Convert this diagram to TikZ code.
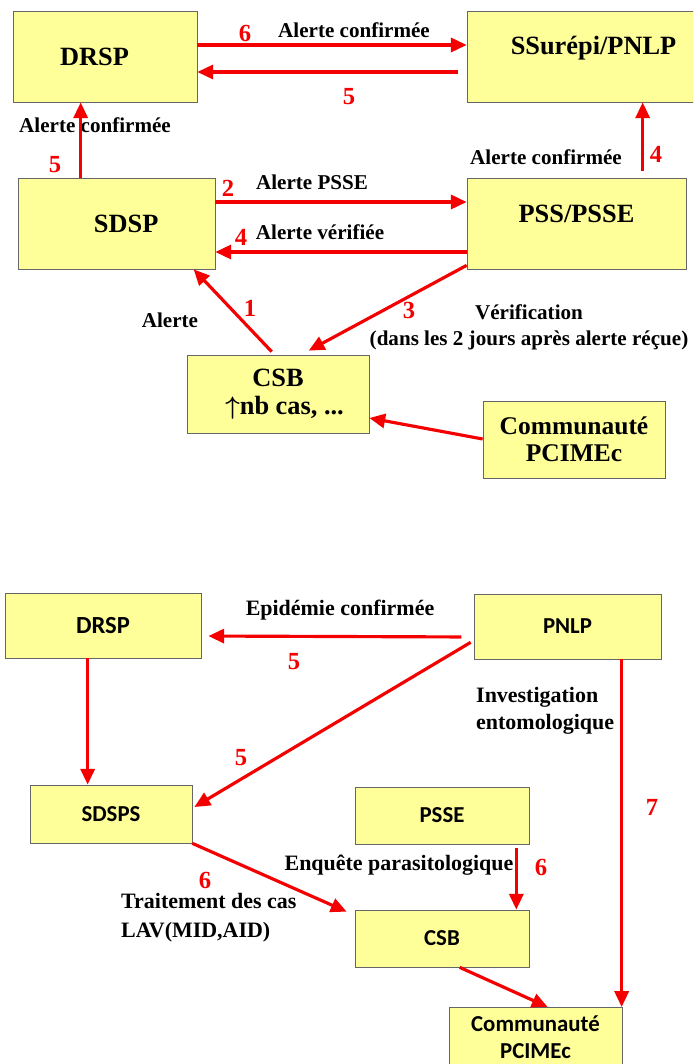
\documentclass[tikz,border=0pt]{standalone}
\usepackage{amsmath, amssymb}
\usepackage{fontspec}
\setmainfont{Liberation Serif}
\newfontfamily\calibrifont{Carlito}
\usetikzlibrary{arrows.meta, positioning, calc}
\definecolor{paleyellow}{HTML}{FFFF99}
\definecolor{alertred}{HTML}{F50000}
\tikzstyle{box} = [rectangle, 
draw=black!60, 
fill=paleyellow, 
inner sep=0pt,
align=center, 
font=\fontsize{15}{17}\selectfont\bfseries]
\tikzstyle{sbox} = [box, font=\calibrifont\fontsize{13}{16}\selectfont\bfseries]
\tikzstyle{arrow} = [-{Triangle[length=9pt,width=8pt]}, line width=1.8pt, draw=alertred]
\tikzstyle{num} = [text=alertred, font=\fontsize{14}{16}\selectfont\bfseries]
\tikzstyle{lbl} = [align=center, font=\fontsize{12}{16.5}\selectfont\bfseries]

\begin{document}
\begin{tikzpicture}[x=0.02cm, y=-0.02cm]
		
		% canvas, same size as the reference
		\useasboundingbox (0,0) rectangle (693,1064);
		\clip (0,0) rectangle (693,1064);
		
		% --- alerte ---
		\node[box, minimum width=3.68cm, minimum height=1.82cm] (drspA) at (105,56.5) {DRSP\hspace*{12pt}};
		\node[box, minimum width=5.06cm, minimum height=1.82cm, text depth=13pt] (ssurepi) at (593.5,56.5) {SSurépi/PNLP};
		\node[box, minimum width=3.94cm, minimum height=1.82cm] (sdsp) at (116.5,223.5) {\hspace*{11pt}SDSP};
		\node[box, minimum width=4.38cm, minimum height=1.82cm, text depth=11pt] (pss) at (576.5,223.5) {PSS/PSSE};
		\node[box, minimum width=3.64cm, minimum height=1.56cm] (csbA) at (278,394) {CSB\\[-1pt] \ \ $\boldsymbol{\uparrow}$nb cas, ...};
		\node[box, minimum width=3.64cm, minimum height=1.54cm, font=\fontsize{14.5}{15.5}\selectfont\bfseries] (commA) at (574,439.5) {Communauté\\PCIMEc};
		
		\node[lbl] (t6) at (354,30) {Alerte confirmée};
		\node[num] (n6) at (245,33) {6};
		\node[num] (n5a) at (349,97) {5};
		\node[lbl] (t5) at (95,125) {Alerte confirmée};
		\node[num] (n5b) at (55,165) {5};
		\node[lbl] (t4a) at (546,157) {Alerte confirmée};
		\node[num] (n4a) at (656,154) {4};
		\node[lbl] (t2) at (312,182) {Alerte PSSE};
		\node[num] (n2) at (228,188) {2};
		\node[lbl] (t4b) at (320,232) {Alerte vérifiée};
		\node[num] (n4b) at (241,237) {4};
		\node[lbl] (t1) at (170,320) {Alerte};
		\node[num] (n1) at (250,308) {1};
		\node[num] (n3) at (409,310) {3};
		\node[lbl] (t3) at (529,312) {Vérification};
		\node[lbl] (t3b) at (529,340) {(dans les 2 jours après alerte réçue)};
		
		\draw[arrow] ($(drspA.east)+(0,-11.5)$) -- ($(ssurepi.west)+(0,-11.5)$);
		\draw[arrow, shorten <=5pt] ($(ssurepi.west)+(0,15.5)$) -- ($(drspA.east)+(0,15.5)$);
		\draw[arrow] ($(sdsp.north west)+(63,0)$) coordinate (s5) -- (s5 |- drspA.south);
		\draw[arrow, shorten <=4pt] ($(pss.north west)+(176,0)$) coordinate (p4) -- (p4 |- ssurepi.south);
		\draw[arrow] ($(sdsp.east)+(0,-21.5)$) -- ($(pss.west)+(0,-21.5)$);
		\draw[arrow] ($(pss.west)+(0,28.5)$) -- ($(sdsp.east)+(0,28.5)$);
		\draw[arrow] ($(csbA.north west)+(85,-3)$) -- ($(sdsp.south west)+(176,0)$);
		\draw[arrow] ($(pss.south west)+(0,-4)$) -- ($(csbA.north west)+(122,-4)$);
		\draw[arrow] ($(commA.west)+(0,-0.5)$) -- ($(csbA.east)+(0,24)$);
		
		% --- epidemie ---
		\node[sbox, minimum width=3.92cm, minimum height=1.3cm, font=\calibrifont\fontsize{14}{16}\selectfont\bfseries] (drspB) at (103,625.5) {DRSP};
		\node[sbox, minimum width=3.74cm, minimum height=1.3cm] (pnlp) at (567.5,626.5) {PNLP};
		\node[sbox, minimum width=3.24cm, minimum height=1.16cm] (sdsps) at (111,814) {SDSPS};
		\node[sbox, minimum width=3.48cm, minimum height=1.14cm] (psse) at (442,815.5) {PSSE};
		\node[sbox, minimum width=3.48cm, minimum height=1.14cm] (csbB) at (442,938.5) {CSB};
		\node[sbox, minimum width=3.46cm, minimum height=1.2cm, anchor=north, font=\calibrifont\fontsize{13}{15}\selectfont\bfseries] (commB) at (535.5,1007) {Communauté\\PCIMEc};
		
		\node[lbl, font=\fontsize{12.5}{16.5}\selectfont\bfseries] (tep) at (340,610) {Epidémie confirmée};
		\node[num] (n5c) at (294,662) {5};
		\node[num] (n5d) at (241,758) {5};
		\node[lbl, align=left, anchor=west, font=\fontsize{12.5}{15.5}\selectfont\bfseries] (tinv) at (470,710.5) {Investigation\\entomologique};
		\node[num] (n7) at (652,807) {7};
		\node[lbl, font=\fontsize{12.5}{16.5}\selectfont\bfseries] (tenq) at (399,865) {Enquête parasitologique};
		\node[num] (n6b) at (541,867) {6};
		\node[num] (n6c) at (205,880) {6};
		\node[lbl, align=left, anchor=west, font=\fontsize{12.5}{16.5}\selectfont\bfseries] (ttr) at (115,917.5) {Traitement des cas\\LAV(MID,AID)};
		
		\draw[arrow, shorten <=7pt, shorten >=4pt] ($(pnlp.west)+(0,10.5)$) -- ($(drspB.east)+(0,10.5)$);
		\draw[arrow] ($(drspB.south west)+(83,0)$) coordinate (d5) -- (d5 |- sdsps.north);
		\draw[arrow] ($(pnlp.south west)+(-3,-17)$) -- ($(sdsps.east)+(2,-7)$);
		\draw[arrow] ($(pnlp.south west)+(148,0)$) coordinate (p7) -- (p7 |- commB.north);
		\draw[arrow] (sdsps.south east) -- ($(csbB.north west)+(-8,2)$);
		\draw[arrow, shorten <=2pt] ($(psse.south east)+(-13,0)$) coordinate (e6) -- (e6 |- csbB.north);
		\draw[arrow] ($(csbB.south west)+(105,0)$) -- ($(commB.north west)+(99,0)$);
		
	\end{tikzpicture}
\end{document}
